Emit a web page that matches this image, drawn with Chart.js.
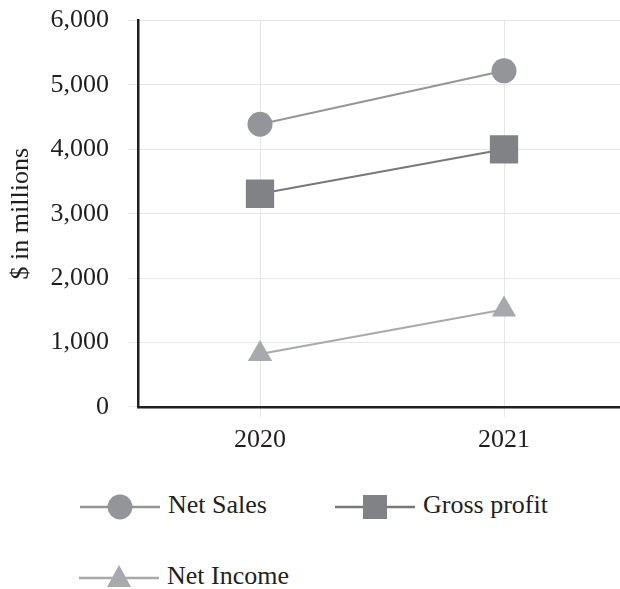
<!DOCTYPE html>
<html>
<head>
<meta charset="utf-8">
<script src="https://cdn.jsdelivr.net/npm/chart.js@4.4.1/dist/chart.umd.min.js"></script>
<style>
  body { margin: 0; width: 620px; height: 589px; overflow: hidden; background: #fff; position: relative; }
  #wrap { position: absolute; left: 0; top: -14px; width: 640px; height: 478px; }
  .legend { position: absolute; font-family: "Liberation Serif", "Times New Roman", serif; font-size: 26px; color: #231f20; }
  .legend span { position: absolute; white-space: nowrap; line-height: 30px; }
  .legend svg { position: absolute; overflow: visible; }
</style>
</head>
<body>
<div id="wrap"><canvas id="chart" width="640" height="478"></canvas></div>
<div class="legend" id="legend"></div>
<script>
const years = ['2020', '2021'];
const netSales = [4390, 5220];
const grossProfit = [3310, 4000];
const netIncome = [820, 1510];
const yTicks = [0, 1000, 2000, 3000, 4000, 5000, 6000];

const serif = '"Liberation Serif", "Times New Roman", serif';
const ink = '#231f20';

const ctx = document.getElementById('chart').getContext('2d');
const chart = new Chart(ctx, {
    type: 'line',
    data: {
        labels: years,
        datasets: [{
            label: 'Net Sales',
            data: netSales,
            borderColor: '#939598',
            backgroundColor: '#939598',
            borderWidth: 2,
            pointStyle: 'circle',
            pointRadius: 12.5,
            pointBorderWidth: 0
        }, {
            label: 'Gross profit',
            data: grossProfit,
            borderColor: '#77787b',
            backgroundColor: '#808285',
            borderWidth: 2,
            pointStyle: 'rect',
            pointRadius: 20,
            pointBorderWidth: 0
        }, {
            label: 'Net Income',
            data: netIncome,
            borderColor: '#a7a9ac',
            backgroundColor: '#a7a9ac',
            borderWidth: 2,
            pointStyle: 'triangle',
            pointRadius: 14,
            pointBorderWidth: 0
        }]
    },
    options: {
        responsive: false,
        animation: false,
        layout: { autoPadding: false, padding: { top: 7.4, right: 14, bottom: 0, left: 0 } },
        plugins: { legend: { display: false }, tooltip: { enabled: false } },
        scales: {
            x: {
                offset: true,
                grid: { color: '#e6e6e6', lineWidth: 1, tickLength: 10, offset: false },
                border: { color: ink, width: 2.5 },
                ticks: { color: ink, padding: 8, font: { family: serif, size: 26 } }
            },
            y: {
                min: 0,
                max: 6000,
                afterBuildTicks: axis => { axis.ticks = yTicks.map(v => ({ value: v })); },
                afterFit: axis => { axis.width = 138; },
                grid: { color: '#e6e6e6', lineWidth: 1, tickLength: 10 },
                border: { color: ink, width: 2.5 },
                ticks: {
                    color: ink,
                    padding: 19,
                    font: { family: serif, size: 26 },
                    callback: v => v.toLocaleString('en-US')
                },
                title: {
                    display: true,
                    text: '$ in millions',
                    color: ink,
                    padding: { top: 6, bottom: 0 },
                    font: { family: serif, size: 26 }
                }
            }
        }
    }
});

// legend: line through the marker, then the label
const legendItems = [
    { text: 'Net Sales', color: '#939598', shape: 'circle', x: 80, y: 507 },
    { text: 'Gross profit', color: '#808285', line: '#77787b', shape: 'rect', x: 335, y: 507 },
    { text: 'Net Income', color: '#a7a9ac', shape: 'triangle', x: 79, y: 578 }
];
const legend = document.getElementById('legend');
legendItems.forEach(item => {
    const svgNS = 'http://www.w3.org/2000/svg';
    const svg = document.createElementNS(svgNS, 'svg');
    svg.setAttribute('width', 80);
    svg.setAttribute('height', 30);
    svg.style.left = item.x + 'px';
    svg.style.top = (item.y - 15) + 'px';
    let marker;
    if (item.shape === 'circle') {
        marker = `<circle cx="40" cy="15" r="12.5" fill="${item.color}"/>`;
    } else if (item.shape === 'rect') {
        marker = `<rect x="28" y="3" width="24" height="24" fill="${item.color}"/>`;
    } else {
        marker = `<polygon points="40,2 52,24 28,24" fill="${item.color}"/>`;
    }
    svg.innerHTML = `<line x1="0" y1="15" x2="80" y2="15" stroke="${item.line || item.color}" stroke-width="2.5"/>` + marker;
    legend.appendChild(svg);
    const span = document.createElement('span');
    span.textContent = item.text;
    span.style.left = (item.x + 88) + 'px';
    span.style.top = (item.y - 17) + 'px';
    legend.appendChild(span);
});
</script>
</body>
</html>
